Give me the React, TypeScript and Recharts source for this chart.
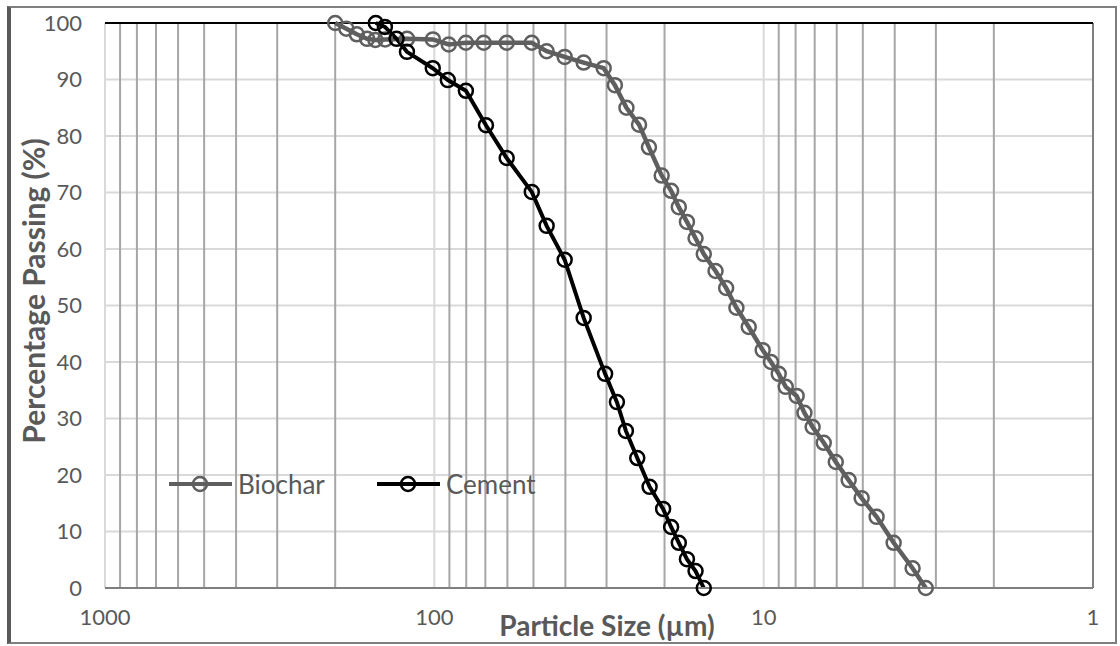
import { LineChart, Line, XAxis, YAxis, CartesianGrid, ReferenceLine } from 'recharts';

// particle size (µm) vs cumulative % passing
const biocharSize = [
  200, 185, 172, 160, 151, 141, 121, 101, 90.4, 80.2, 70.8, 60.3, 50.6, 45.6, 40.2, 35.2, 30.6,
  28.3, 26.1, 23.9, 22.3, 20.4, 19.1, 18.1, 17.1, 16.1, 15.2, 14.0, 13.0, 12.1, 11.1, 10.07, 9.5,
  9.0, 8.57, 7.94, 7.52, 7.1, 6.57, 6.04, 5.52, 5.04, 4.54, 4.03, 3.53, 3.22
];
const biocharPassing = [
  100, 99, 98, 97.2, 97, 97.1, 97.2, 97.1, 96.2, 96.5, 96.5, 96.5, 96.5, 95, 94, 93, 92,
  89, 85, 82, 78, 73, 70.3, 67.4, 64.8, 61.9, 59.1, 56.1, 53.1, 49.6, 46.2, 42.1, 40,
  37.9, 35.6, 34, 31, 28.5, 25.7, 22.3, 19.1, 15.9, 12.6, 8, 3.5, 0
];

const cementSize = [
  150.6, 141.3, 130.2, 121.1, 101.1, 91, 80.2, 69.7, 60.3, 50.6, 45.6, 40.2, 35.2, 30.3, 27.9,
  26.2, 24.2, 22.2, 20.2, 19.1, 18.1, 17.1, 16.1, 15.2
];
const cementPassing = [
  100, 99.3, 97.2, 94.9, 92, 89.9, 88, 81.9, 76.1, 70.1, 64.1, 58.1, 47.8, 37.9, 32.9,
  27.8, 23, 17.9, 14, 10.8, 8, 5.1, 3, 0
];

const xTicks = [1000, 100, 10, 1];
const yTicks = [0, 10, 20, 30, 40, 50, 60, 70, 80, 90, 100];
const majorGrid = [1000, 100, 10];
const minorGrid = [
  900, 800, 700, 600, 500, 400, 300, 200,
  90, 80, 70, 60, 50, 40, 30, 20,
  9, 8, 7, 6, 5, 4, 3, 2
];

const biochar = biocharSize.map((x, i) => ({ x, y: biocharPassing[i] }));
const cement = cementSize.map((x, i) => ({ x, y: cementPassing[i] }));

const FONT = 'Lato, "Open Sans", sans-serif';
const TEXT = '#595959';
const GRAY = '#5f5f5f';

const series = [
  { name: 'Biochar', color: GRAY },
  { name: 'Cement', color: '#000000' }
];

const LegendBox = () => (
  <div style={{ display: 'flex', fontFamily: FONT, fontSize: 26, color: TEXT, lineHeight: '30px' }}>
    {series.map((s) => (
      <div key={s.name} style={{ display: 'flex', alignItems: 'center', width: 208 }}>
        <svg width={66} height={20}>
          <line x1={0} y1={10} x2={63} y2={10} stroke={s.color} strokeWidth={4} />
          <circle cx={31} cy={10} r={7} fill="none" stroke={s.color} strokeWidth={2.5} />
        </svg>
        <span style={{ marginLeft: 3 }}>{s.name}</span>
      </div>
    ))}
  </div>
);

const App = () => {
  return (
    <div style={{ position: 'absolute', left: 0, top: 0, width: 1120, height: 646, background: '#fff' }}>
      <div
        style={{
          position: 'absolute',
          left: 7,
          top: 6,
          width: 1110,
          height: 638,
          boxSizing: 'border-box',
          borderTop: '2px solid #7f7f7f',
          borderRight: '2px solid #7f7f7f',
          borderBottom: '2px solid #7f7f7f',
          borderLeft: '4px solid #595959'
        }}
      />
      <div style={{ position: 'absolute', left: 0, top: 0 }}>
        <LineChart width={1120} height={646} margin={{ top: 23, right: 27, bottom: 28, left: 5 }}>
          <CartesianGrid vertical={false} stroke="#d9d9d9" strokeWidth={2} />
          {minorGrid.map((v) => (
            <ReferenceLine key={'m' + v} x={v} stroke="#a6a6a6" strokeWidth={2} />
          ))}
          {majorGrid.map((v) => (
            <ReferenceLine key={'M' + v} x={v} stroke="#d9d9d9" strokeWidth={2} />
          ))}
          <ReferenceLine x={1} stroke="#7f7f7f" strokeWidth={2} />
          <ReferenceLine y={100} stroke="#000000" strokeWidth={2} />
          <XAxis
            dataKey="x"
            type="number"
            scale="log"
            domain={[1, 1000]}
            reversed
            allowDataOverflow
            ticks={xTicks}
            height={30}
            tickSize={0}
            tickMargin={21}
            axisLine={{ stroke: '#7f7f7f', strokeWidth: 2 }}
            tick={{ fontFamily: FONT, fontSize: 22, fill: TEXT }}
            label={{
              content: () => (
                <text x={607} y={636} textAnchor="middle" fontFamily={FONT} fontSize={28} fontWeight={700} fill={TEXT}>
                  Particle Size (µm)
                </text>
              )
            }}
          />
          <YAxis
            type="number"
            domain={[0, 100]}
            ticks={yTicks}
            width={100}
            tickSize={0}
            tickMargin={23}
            axisLine={false}
            tickLine={false}
            tick={{ fontFamily: FONT, fontSize: 22, fill: TEXT }}
            label={{
              content: () => (
                <text
                  x={33}
                  y={291}
                  transform="rotate(-90 33 291)"
                  textAnchor="middle"
                  dominantBaseline="central"
                  fontFamily={FONT}
                  fontSize={30}
                  fontWeight={700}
                  fill={TEXT}
                >
                  Percentage Passing (%)
                </text>
              )
            }}
          />
          <Line
            data={biochar}
            dataKey="y"
            name="Biochar"
            type="linear"
            stroke={GRAY}
            strokeWidth={4.5}
            dot={{ r: 7, fill: 'none', stroke: GRAY, strokeWidth: 2.5 }}
            activeDot={false}
            isAnimationActive={false}
          />
          <Line
            data={cement}
            dataKey="y"
            name="Cement"
            type="linear"
            stroke="#000000"
            strokeWidth={4}
            dot={{ r: 7, fill: 'none', stroke: '#000000', strokeWidth: 2.5 }}
            activeDot={false}
            isAnimationActive={false}
          />
        </LineChart>
      </div>
      <div style={{ position: 'absolute', left: 169, top: 469 }}>
        <LegendBox />
      </div>
    </div>
  );
};

export default App;
